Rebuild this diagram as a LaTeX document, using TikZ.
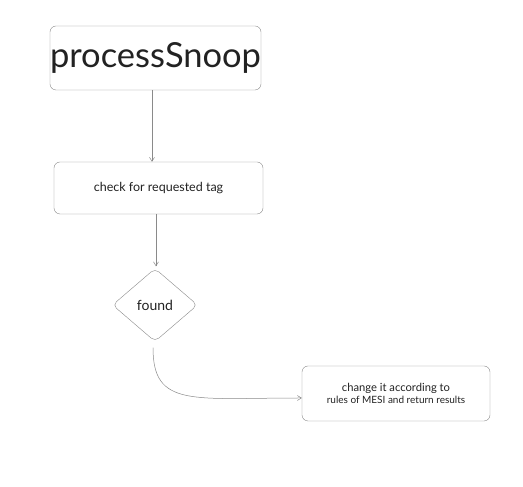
\documentclass[tikz,border=0pt]{standalone}
\usepackage{fontspec}
\setmainfont{Lato}
\usepackage{tikz}
\usetikzlibrary{shapes.geometric, arrows.meta, positioning, calc}
\definecolor{linegray}{HTML}{8A8A8A}
\definecolor{textdark}{HTML}{222222}
\tikzstyle{process} = [rectangle, rounded corners=6pt, align=center, draw=linegray, fill=white, text=textdark, inner sep=0pt]
\tikzstyle{decision} = [diamond, rounded corners=5pt, aspect=1.16, minimum width=85pt, minimum height=73pt, inner sep=0pt, draw=linegray, fill=white, text=textdark]
\tikzstyle{arrow} = [linegray, line width=0.5pt, -{Straight Barb[length=4pt, width=5pt]}]

\begin{document}
\begin{tikzpicture}[x=1pt, y=1pt, node distance=1cm]
	\useasboundingbox[fill=white] (0,0) rectangle (523,487);
	% nodes
	\node (snoop) at (155.5,429) [process, minimum width=211pt, minimum height=64pt] {\fontsize{34.5}{40}\selectfont processSnoop};
	
	\node (check) at (158.5,299) [process, minimum width=209pt, minimum height=52pt] {\fontsize{12.5}{15}\selectfont check for requested tag};
	
	\node (found) at (155,182) [decision] {\fontsize{14}{16}\selectfont found};
	
	\node (mesi) at (396,93.5) [process, minimum width=188pt, minimum height=55pt] {\fontsize{11.2}{15}\selectfont change it according to\\rules of MESI and return results};
	
	% arrows
	\draw [arrow] ([xshift=-3.5pt] snoop.south) -- ([xshift=-6.5pt] check.north);
	\draw [arrow] ([xshift=-2.5pt] check.south) -- ([xshift=1pt, yshift=2pt] found.north);
	\draw [arrow] ([xshift=-2pt, yshift=-6pt] found.south) .. controls +(0,-60) and +(-110,0) .. ([yshift=-4.5pt] mesi.west);
\end{tikzpicture}
\end{document}
